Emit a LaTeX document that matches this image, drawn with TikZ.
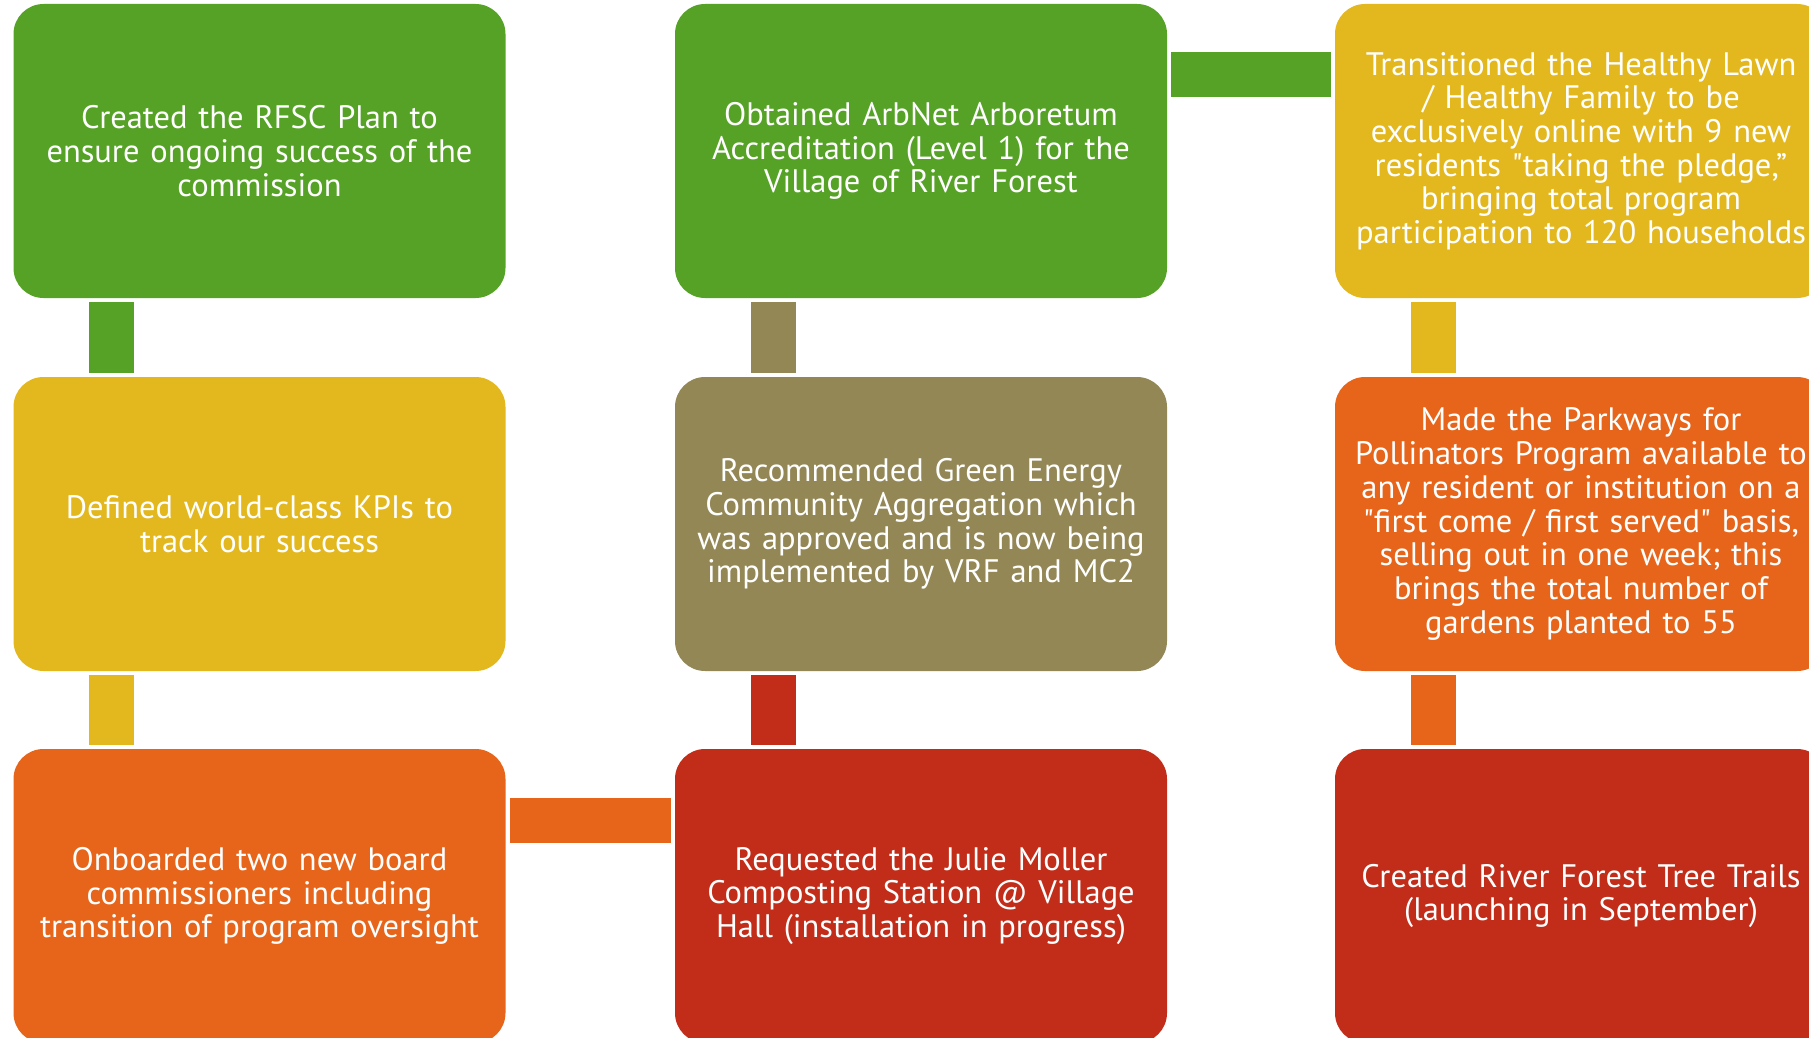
\documentclass[tikz,border=0pt]{standalone}
\usepackage{fontspec}
\setmainfont{PT Sans}[Ligatures=TeXOff]
\definecolor{cgreen}{RGB}{85,162,38}
\definecolor{cyellow}{RGB}{227,184,31}
\definecolor{corange}{RGB}{230,101,26}
\definecolor{colive}{RGB}{147,135,85}
\definecolor{cred}{RGB}{194,45,26}
\begin{document}
\begin{tikzpicture}[x=1pt,y=-1pt,
  box/.style={rectangle, rounded corners=30pt, minimum width=492pt, minimum height=294pt,
    inner sep=0pt, text=white, align=center, text width=486pt,
    font=\fontsize{32.5}{33.7}\selectfont},
  conn/.style={line width=45pt}]
\useasboundingbox (0,0) rectangle (1809,1038);
\clip (0,0) rectangle (1809,1038);
\fill[white] (0,0) rectangle (1809,1038);
% row 1
\node[box, fill=cgreen] (a1) at (259.5,151) {Created the RFSC Plan to\\ensure ongoing success of the\\commission};
\node[box, fill=cgreen] (b1) at (921,151) {Obtained ArbNet Arboretum\\Accreditation (Level 1) for the\\Village of River Forest};
\node[box, fill=cyellow] (c1) at (1581,151) {Transitioned the Healthy Lawn\\/ Healthy Family to be\\exclusively online with 9 new\\residents "taking the pledge,”\\bringing total program\\participation to 120 households};
% row 2
\node[box, fill=cyellow] (a2) at (259.5,524) {Defined world-class KPIs to\\track our success};
\node[box, fill=colive] (b2) at (921,524) {Recommended Green Energy\\Community Aggregation which\\was approved and is now being\\implemented by VRF and MC2};
\node[box, fill=corange] (c2) at (1581,524) {Made the Parkways for\\Pollinators Program available to\\any resident or institution on a\\"first come / first served" basis,\\selling out in one week; this\\brings the total number of\\gardens planted to 55};
% row 3
\node[box, fill=corange] (a3) at (259.5,896) {Onboarded two new board\\commissioners including\\transition of program oversight};
\node[box, fill=cred] (b3) at (921,896) {Requested the Julie Moller\\Composting Station @ Village\\Hall (installation in progress)};
\node[box, fill=cred] (c3) at (1581,896) {Created River Forest Tree Trails\\(launching in September)};
% connectors
\draw[conn, cgreen] ([xshift=98.5pt,yshift=-4pt]a1.south west) -- ([xshift=98.5pt,yshift=4pt]a2.north west);
\draw[conn, cyellow] ([xshift=98.5pt,yshift=-4pt]a2.south west) -- ([xshift=98.5pt,yshift=4pt]a3.north west);
\draw[conn, corange] ([xshift=4pt,yshift=-71.5pt]a3.north east) -- ([xshift=-4pt,yshift=-71.5pt]b3.north west);
\draw[conn, cred] ([xshift=98.5pt,yshift=4pt]b3.north west) -- ([xshift=98.5pt,yshift=-4pt]b2.south west);
\draw[conn, colive] ([xshift=98.5pt,yshift=4pt]b2.north west) -- ([xshift=98.5pt,yshift=-4pt]b1.south west);
\draw[conn, cgreen] ([xshift=4pt,yshift=-70.5pt]b1.north east) -- ([xshift=-4pt,yshift=-70.5pt]c1.north west);
\draw[conn, cyellow] ([xshift=98.5pt,yshift=-4pt]c1.south west) -- ([xshift=98.5pt,yshift=4pt]c2.north west);
\draw[conn, corange] ([xshift=98.5pt,yshift=-4pt]c2.south west) -- ([xshift=98.5pt,yshift=4pt]c3.north west);
\end{tikzpicture}
\end{document}
